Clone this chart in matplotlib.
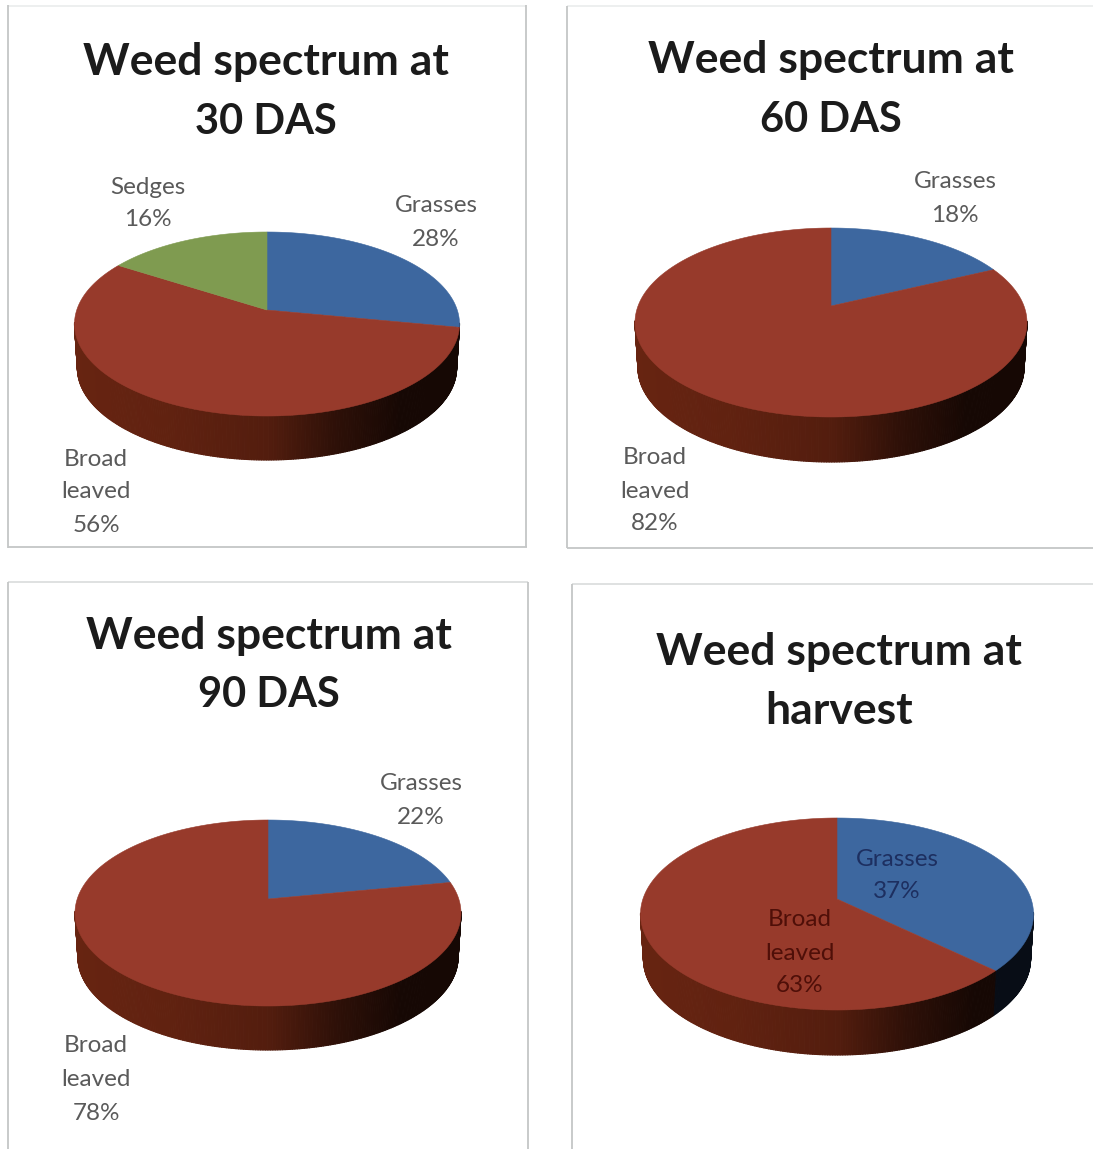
import numpy as np
import matplotlib
matplotlib.use("Agg")
import matplotlib.pyplot as plt
from matplotlib.collections import PolyCollection
from matplotlib.colors import to_rgb

plt.rcParams['font.family'] = ['Lato', 'DejaVu Sans']

# Share of each weed group, listed clockwise from twelve o'clock
categories_30 = ["Grasses", "Broad leaved", "Sedges"]
values_30 = [28, 56, 16]
categories_60 = ["Grasses", "Broad leaved"]
values_60 = [18, 82]
categories_90 = ["Grasses", "Broad leaved"]
values_90 = [22, 78]
categories_harvest = ["Grasses", "Broad leaved"]
values_harvest = [37, 63]

titles = [("Weed spectrum at", "30 DAS"), ("Weed spectrum at", "60 DAS"),
          ("Weed spectrum at", "90 DAS"), ("Weed spectrum at", "harvest")]

COLORS = {"Grasses": "#3d679f", "Broad leaved": "#973a2b", "Sedges": "#7f9b50"}
WALL_BASE = {"Grasses": "#3f66a8", "Broad leaved": "#a63a1c", "Sedges": "#7f9b50"}
FRAME = "#c4c6c6"
FRAME_TOP = "#eceeee"
LABEL = "#5a5a5a"

fig = plt.figure(figsize=(10.93, 11.49), dpi=100, facecolor="white")
ax = fig.add_axes([0, 0, 1, 1])
ax.set_xlim(0, 1093)
ax.set_ylim(1149, 0)
ax.axis("off")


def tilted_disc(theta, cx, apex_y, top_y, bottom_y, half_width):
    """Project points of a unit disc (clockwise angle from north) with perspective."""
    far, near = apex_y - top_y, bottom_y - apex_y
    k = (near - far) / (near + far)
    b = far * (1 + k)
    a = half_width * np.sqrt(1 - k ** 2)
    u, v = np.sin(theta), np.cos(theta)
    w = 1 + k * v
    return cx + a * u / w, apex_y - b * v / w, k


def draw_pie(values, names, cx, apex_y, top_y, bottom_y, half_width, depth):
    fractions = np.asarray(values, float) / sum(values)
    edges = np.concatenate([[0], np.cumsum(fractions)]) * 2 * np.pi

    # Side wall: short shaded strips along the near rim, tapering slightly downward
    taper = 0.985
    verts, facecolors = [], []
    for name, t0, t1 in zip(names, edges[:-1], edges[1:]):
        steps = np.linspace(t0, t1, max(int((t1 - t0) * 90), 3))
        xs, ys, k = tilted_disc(steps, cx, apex_y, top_y, bottom_y, half_width)
        xb = cx + (xs - cx) * taper
        base = np.array(to_rgb(WALL_BASE[name]))
        near_rim = np.cos(steps) <= -k + 0.02
        for i in range(len(steps) - 1):
            if near_rim[i] and near_rim[i + 1]:
                verts.append([(xs[i], ys[i]), (xs[i + 1], ys[i + 1]),
                              (xb[i + 1], ys[i + 1] + depth), (xb[i], ys[i] + depth)])
                pos = ((xs[i] + xs[i + 1]) / 2 - cx) / half_width
                shade = np.interp(pos, [-1, -0.5, 0, 0.35, 0.7, 1],
                                  [0.62, 0.58, 0.50, 0.28, 0.13, 0.13])
                facecolors.append(np.clip(base * shade, 0, 1))
    ax.add_collection(PolyCollection(verts, facecolors=facecolors,
                                     edgecolors=facecolors, linewidths=0.8, zorder=3))

    # Top face
    for name, t0, t1 in zip(names, edges[:-1], edges[1:]):
        steps = np.linspace(t0, t1, 200)
        xs, ys, _ = tilted_disc(steps, cx, apex_y, top_y, bottom_y, half_width)
        ax.fill(np.r_[cx, xs], np.r_[apex_y, ys], facecolor=COLORS[name],
                edgecolor=COLORS[name], linewidth=0.4, zorder=4)


def draw_frame(segments, color=FRAME):
    for (x0, y0), (x1, y1) in segments:
        ax.plot([x0, x1], [y0, y1], color=color, lw=1.3, zorder=1,
                solid_capstyle="butt")


draw_frame([((8, 6), (526, 6)), ((567, 6), (1093, 6))], FRAME_TOP)
draw_frame([((8, 582), (528, 582)), ((572, 584), (1093, 584))], "#dcdede")
draw_frame([((8, 5), (8, 548)), ((8, 547), (527, 547)), ((526, 5), (526, 547))])
draw_frame([((567, 6), (567, 548)), ((567, 548), (1093, 548))])
draw_frame([((8, 582), (8, 1149)), ((528, 582), (528, 1149))])
draw_frame([((572, 584), (572, 1149))])

draw_pie(values_30, categories_30, 267, 310, 232, 416, 192.5, 44)
draw_pie(values_60, categories_60, 831, 306, 228, 417, 196, 45)
draw_pie(values_90, categories_90, 268, 899, 820, 1006, 193, 44)
draw_pie(values_harvest, categories_harvest, 837, 899, 818, 1010, 196.5, 45)

# Chart titles; Lato's figures run wide, so the DAS lines are set a little smaller
title_spots = [(266, 62, 122), (831, 60, 120), (269, 636, 695), (839, 652, 711)]
for (line1, line2), (x, y1, y2) in zip(titles, title_spots):
    ax.text(x, y1, line1, ha="center", va="center", fontsize=32,
            fontweight="bold", color="#1b1b1b", zorder=6)
    ax.text(x, y2, line2, ha="center", va="center",
            fontsize=30 if "DAS" in line2 else 32,
            fontweight="bold", color="#1b1b1b", zorder=6)


def data_label(x, ys, name, value, color=LABEL, zorder=2):
    lines = name.split() + [f"{value}%"] if name == "Broad leaved" else [name, f"{value}%"]
    for y, line in zip(ys, lines):
        ax.text(x, y + 2, line, ha="center", va="center", fontsize=17.5,
                color=color, zorder=zorder)


# Category labels beside (or on) each pie
data_label(436, (204, 237), categories_30[0], values_30[0])
data_label(148, (185, 218), categories_30[2], values_30[2])
data_label(96, (457, 490, 523), categories_30[1], values_30[1])
data_label(955, (180, 213), categories_60[0], values_60[0])
data_label(655, (456, 489, 522), categories_60[1], values_60[1])
data_label(421, (782, 815), categories_90[0], values_90[0])
data_label(96, (1044, 1078, 1111), categories_90[1], values_90[1])
data_label(897, (857, 890), categories_harvest[0], values_harvest[0], "#1d2f60", 6)
data_label(800, (918, 951, 984), categories_harvest[1], values_harvest[1], "#4f0f08", 6)

fig.savefig("out.png", dpi=100, facecolor="white")
